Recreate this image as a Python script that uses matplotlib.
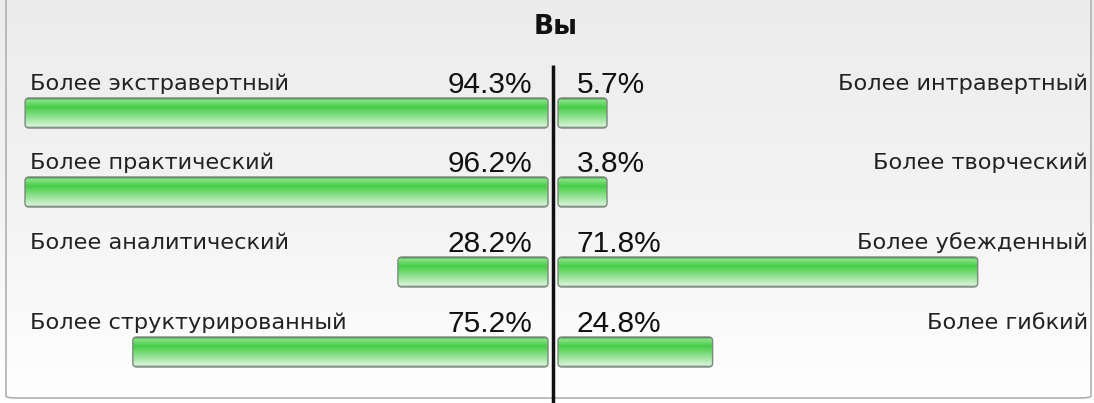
import numpy as np
import matplotlib
matplotlib.use("Agg")
import matplotlib.pyplot as plt
from matplotlib.patches import FancyBboxPatch
from matplotlib.colors import LinearSegmentedColormap

title = "Вы"
left_labels = ["Более экстравертный", "Более практический", "Более аналитический", "Более структурированный"]
right_labels = ["Более интравертный", "Более творческий", "Более убежденный", "Более гибкий"]
left_values = [94.3, 96.2, 28.2, 75.2]
right_values = [5.7, 3.8, 71.8, 24.8]

W, H = 1094, 403
fig = plt.figure(figsize=(W / 100, H / 100), dpi=100)
ax = fig.add_axes([0, 0, 1, 1])
PX = 5.64  # pixels per percent
CX = 553
ax.set_xlim(-CX / PX, (W - CX) / PX)
ax.set_ylim(H, 0)
ax.axis("off")

def px2x(p):
    return (p - CX) / PX

# background gradient
bg = np.linspace(0, 1, 200).reshape(-1, 1)
bg_cmap = LinearSegmentedColormap.from_list("bg", ["#ececec", "#f3f3f3", "#ffffff"])
ax.imshow(bg, cmap=bg_cmap, aspect="auto", extent=[px2x(0), px2x(W), H, 0], zorder=0)
# panel border
panel = FancyBboxPatch((px2x(6), -40), px2x(1091) - px2x(6), 438,
                       boxstyle="round,pad=0,rounding_size=2",
                       fc="none", ec="#b0b0b0", lw=1.2, zorder=1, mutation_aspect=1)
ax.add_patch(panel)

bar_cmap = LinearSegmentedColormap.from_list(
    "bar", [(0.0, "#3a6a3a"), (0.06, "#8be38b"), (0.3, "#48cc48"),
            (0.75, "#a9e8a9"), (0.93, "#d6f3d6"), (1.0, "#8a9a8a")])
grad = np.linspace(0, 1, 100).reshape(-1, 1)

def draw_bar(x0, x1, yc, h=30):
    y0 = yc - h / 2
    patch = FancyBboxPatch((x0, y0), x1 - x0, h,
                           boxstyle="round,pad=0,rounding_size=0.7",
                           mutation_aspect=PX,
                           fc="none", ec="#7a8a7a", lw=1.0, zorder=4)
    ax.add_patch(patch)
    im = ax.imshow(grad, cmap=bar_cmap, aspect="auto",
                   extent=[x0, x1, y0 + h, y0], zorder=3, interpolation="bilinear")
    im.set_clip_path(patch)

row_y = [113, 192, 272, 352]
LEFT_LIMIT = px2x(25)
RIGHT_MIN = px2x(607)
for i, yc in enumerate(row_y):
    lv, rv = left_values[i], right_values[i]
    lx = max(-(lv - 0.7), LEFT_LIMIT)
    draw_bar(lx, px2x(548), yc)
    rx = max(rv + 3.5, RIGHT_MIN)
    draw_bar(px2x(558), rx, yc)
    ty = yc - 23
    ax.text(px2x(30), ty, left_labels[i], ha="left", va="baseline",
            fontsize=16.2, family="DejaVu Sans", color="#222222", zorder=5)
    ax.text(px2x(1088), ty, right_labels[i], ha="right", va="baseline",
            fontsize=16.2, family="DejaVu Sans", color="#222222", zorder=5)
    ax.text(px2x(532), ty + 3, f"{lv:.1f}%", ha="right", va="baseline",
            fontsize=21.5, family="Liberation Sans", color="#111111", zorder=5)
    ax.text(px2x(577), ty + 3, f"{rv:.1f}%", ha="left", va="baseline",
            fontsize=21.5, family="Liberation Sans", color="#111111", zorder=5)

ax.plot([0, 0], [65, H], color="#111111", lw=2.5, zorder=6, solid_capstyle="butt")
ax.text(px2x(556), 27, title, ha="center", va="center", fontsize=19,
        fontweight="bold", family="DejaVu Sans", color="#111111", zorder=5)

fig.savefig("out.png", dpi=100)
